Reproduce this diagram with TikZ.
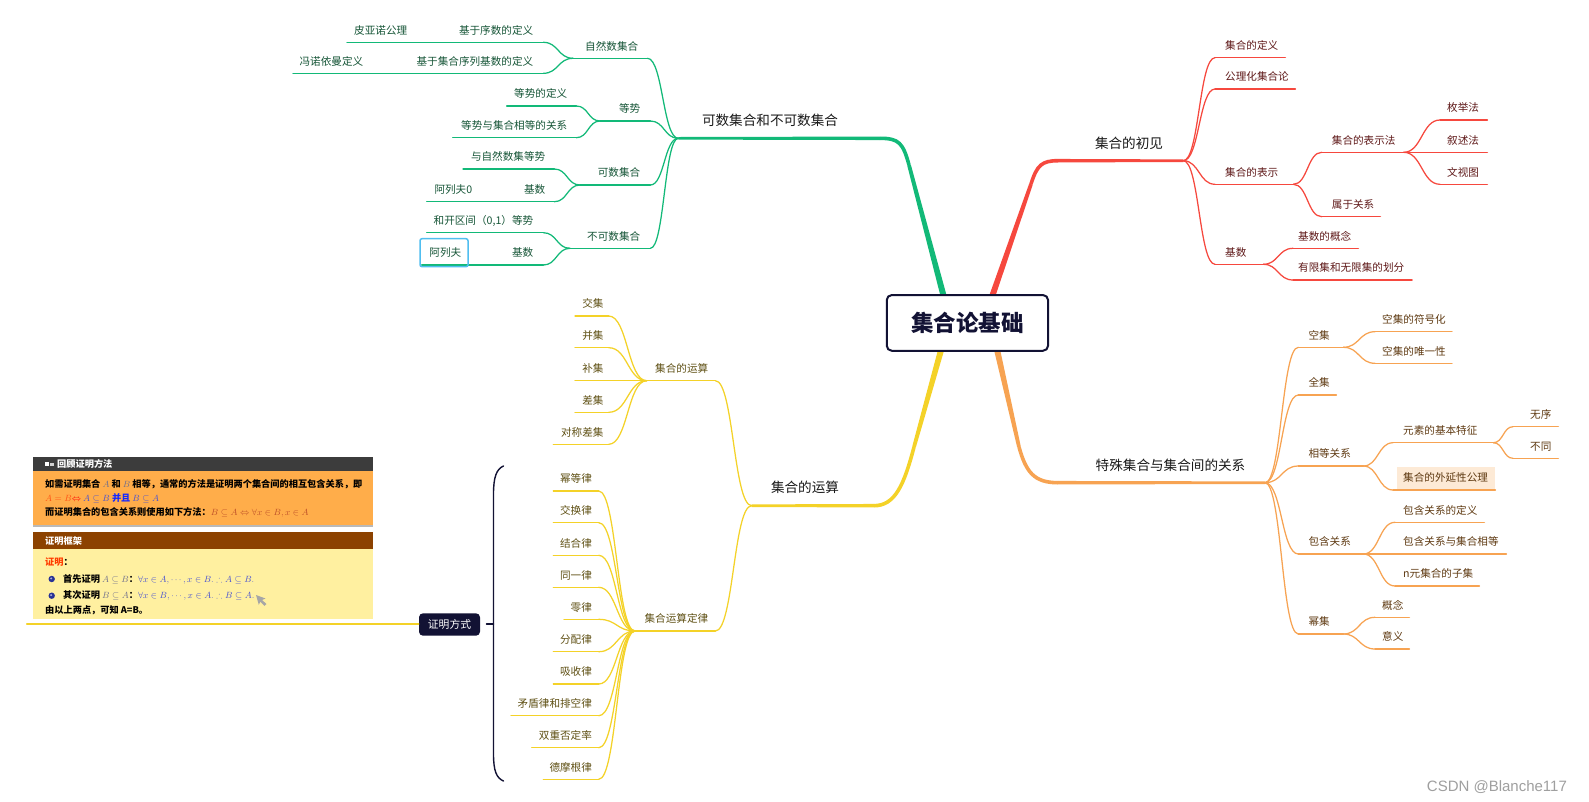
\documentclass[tikz,border=0pt]{standalone}
\usepackage{amssymb}
\usepackage{fontspec}
\setmainfont{Noto Sans CJK SC}
\newfontfamily\wmfont{Liberation Sans}
\usetikzlibrary{calc,backgrounds}
\definecolor{gC}{RGB}{18,185,120}
\definecolor{gT}{RGB}{22,85,55}
\definecolor{rC}{RGB}{246,72,62}
\definecolor{rT}{RGB}{95,25,25}
\definecolor{oC}{RGB}{247,163,82}
\definecolor{oT}{RGB}{95,58,18}
\definecolor{yC}{RGB}{244,210,40}
\definecolor{yT}{RGB}{95,80,20}
\definecolor{navy}{RGB}{18,18,52}
\definecolor{mainT}{RGB}{25,25,25}
\definecolor{selB}{RGB}{80,190,240}
\definecolor{extF}{RGB}{253,234,214}
\definecolor{imgDark}{RGB}{60,60,60}
\definecolor{imgOr}{RGB}{255,173,74}
\definecolor{imgBr}{RGB}{140,66,0}
\definecolor{imgY}{RGB}{255,240,160}
\definecolor{mgray}{RGB}{110,110,140}
\definecolor{eqR}{RGB}{255,80,20}
\definecolor{mblue}{RGB}{70,80,210}
\definecolor{bblue}{RGB}{20,40,255}
\definecolor{mbrown}{RGB}{190,80,40}
\definecolor{prR}{RGB}{255,60,0}
\definecolor{bulB}{RGB}{40,50,150}
\tikzset{
  base/.style={inner ysep=6pt, text height=8pt, text depth=2pt, font=\fontsize{10.6}{12}\selectfont},
  gtxt/.style={base, text=gT}, gln/.style={gC, line width=1.25pt},
  rtxt/.style={base, text=rT}, rln/.style={rC, line width=1.25pt},
  otxt/.style={base, text=oT}, oln/.style={oC, line width=1.25pt},
  ytxt/.style={base, text=yT}, yln/.style={yC, line width=1.25pt},
  mlbl/.style={inner sep=0pt, text=mainT, font=\fontsize{13.6}{15}\selectfont},
  imgtxt/.style={inner sep=0pt, anchor=west, font=\fontsize{9.2}{11}\selectfont},
  curv/.style={to path={let \p1=(\tikztostart), \p2=(\tikztotarget) in
     .. controls (0.5*\x1+0.5*\x2,\y1) and (0.5*\x1+0.5*\x2,\y2) .. (\tikztotarget)}},
  rootbox/.style={draw=navy, line width=2pt, rounded corners=5pt, fill=white,
     minimum width=161.3pt, minimum height=55.7pt, inner sep=0pt,
     font=\fontsize{22.5}{26}\selectfont\bfseries, text=navy},
  proofbox/.style={fill=navy, rounded corners=4pt, minimum width=61pt, minimum height=22.4pt,
     inner sep=0pt, text=white, font=\fontsize{10.8}{12}\selectfont}
}
% right-side item: pad, colour key, name, x1, x2, y(underline), text
\newcommand\nR[7][9]{\pgfmathsetmacro\tw{#5-#4-2*#1}%
  \node[#2txt, inner xsep=#1pt, anchor=south west] (#3) at (#4,#6) {\makebox[\tw pt][l]{#7}};%
  \draw[#2ln] (#3.south west) -- (#3.south east);}
% left-side item
\newcommand\nL[7][9]{\pgfmathsetmacro\tw{#5-#4-2*#1}%
  \node[#2txt, inner xsep=#1pt, anchor=south west] (#3) at (#4,#6) {\makebox[\tw pt][r]{#7}};%
  \draw[#2ln] (#3.south west) -- (#3.south east);}
\newcommand\cn[3]{\draw[#1ln] (#2) to[curv] (#3);}
% tapered straight piece: colour, from, to, half width at from, half width at to
\newcommand\taper[5]{\fill[#1] ($(#2)!#4pt!90:(#3)$) -- ($(#3)!#5pt!-90:(#2)$) -- ($(#3)!#5pt!90:(#2)$) -- ($(#2)!#4pt!-90:(#3)$) -- cycle;}
\begin{document}
\begin{tikzpicture}[x=1pt, y=-1pt, line cap=round, line join=round]
\useasboundingbox (0,0) rectangle (1589,801);
\begin{pgfonlayer}{background}
\fill[white] (0,0) rectangle (1589,801);
\end{pgfonlayer}

\node[rootbox] (root) at (967.4,322.9) {集合论基础};

\coordinate (gH) at (678.3,138.3);
\coordinate (rH) at (1183.3,160.7);
\coordinate (yH) at (751.7,505.7);
\coordinate (oH) at (1265,482.7);

\coordinate (gA) at ($(root)+(-21.7,-18.9)$);  \coordinate (gB) at (909,165);  \coordinate (gC1) at (880,138.3);
\coordinate (rA) at ($(root)+(22.1,-18.9)$);   \coordinate (rB) at (1031,184); \coordinate (rC1) at (1058,160.7);
\coordinate (yA) at ($(root)+(-24.1,19.1)$);   \coordinate (yB) at (914,447);  \coordinate (yC1) at (874,505.7);
\coordinate (oA) at ($(root)+(27.9,19.1)$);    \coordinate (oB) at (1019,447); \coordinate (oC1) at (1058,482.7);

\begin{pgfonlayer}{background}
% green main
\taper{gC}{gA}{gB}{3.1}{1.85}
\draw[gC, line width=3.6pt] (gB) .. controls (903,143) and (899,138.3) .. (gC1);
\taper{gC}{gC1}{gH}{1.75}{1.3}
% red main
\taper{rC}{rA}{rB}{3.1}{1.85}
\draw[rC, line width=3.6pt] (rB) .. controls (1037,165) and (1042,160.7) .. (rC1);
\taper{rC}{rC1}{rH}{1.75}{1.3}
% yellow main
\taper{yC}{yA}{yB}{3.1}{1.85}
\draw[yC, line width=3.6pt] (yB) .. controls (904,485) and (895,505.7) .. (yC1);
\taper{yC}{yC1}{yH}{1.75}{1.3}
% orange main
\taper{oC}{oA}{oB}{3.1}{1.85}
\draw[oC, line width=3.6pt] (oB) .. controls (1026,472) and (1034,482.7) .. (oC1);
\taper{oC}{oC1}{oH}{1.75}{1.3}
\end{pgfonlayer}

% main labels
\node[mlbl] (gM) at (770,120.7) {可数集合和不可数集合};
\node[mlbl] (rM) at (1129,143) {集合的初见};
\node[mlbl] (yM) at (805,487.5) {集合的运算};
\node[mlbl] (oM) at (1170.5,465) {特殊集合与集合间的关系};

% ---------------- green ----------------
\nL[9]{g}{g1}{573}{647}{58.3}{自然数集合}
\nL[10]{g}{g11}{445}{543}{42.3}{基于序数的定义}
\nL[10]{g}{g111}{347}{417}{42.3}{皮亚诺公理}
\nL[10]{g}{g12}{404}{543}{73.3}{基于集合序列基数的定义}
\nL[10]{g}{g121}{293}{373}{73.3}{冯诺依曼定义}
\nL[10]{g}{g2}{600}{650}{121}{等势}
\nL[9]{g}{g21}{506.7}{576}{106}{等势的定义}
\nL[9]{g}{g22}{452.7}{576}{137.7}{等势与集合相等的关系}
\nL[10]{g}{g3}{580}{650}{185}{可数集合}
\nL[9]{g}{g31}{463}{554}{169}{与自然数集等势}
\nL[9]{g}{g32}{480}{554}{201.7}{基数}
\nL[8]{g}{g321}{426.7}{480}{201.7}{阿列夫0}
\nL[10]{g}{g4}{570}{650}{248.3}{不可数集合}
\nL[10]{g}{g41}{426.7}{543}{232.7}{和开区间（0,1）等势}
\nL[10]{g}{g42}{470}{543}{265}{基数}
\nL[9]{g}{g421}{421.7}{470}{265}{阿列夫}
\draw[selB, line width=1.5pt, rounded corners=2pt] (420,238.7) rectangle (468,266.7);

\cn{g}{gH}{g1.south east}
\cn{g}{gH}{g2.south east}
\cn{g}{gH}{g3.south east}
\cn{g}{gH}{g4.south east}
\cn{g}{g1.south west}{g11.south east}
\cn{g}{g1.south west}{g12.south east}
\cn{g}{g11.south west}{g111.south east}
\cn{g}{g12.south west}{g121.south east}
\cn{g}{g2.south west}{g21.south east}
\cn{g}{g2.south west}{g22.south east}
\cn{g}{g3.south west}{g31.south east}
\cn{g}{g3.south west}{g32.south east}
\cn{g}{g32.south west}{g321.south east}
\cn{g}{g4.south west}{g41.south east}
\cn{g}{g4.south west}{g42.south east}
\cn{g}{g42.south west}{g421.south east}

% ---------------- red ----------------
\nR[10]{r}{r1}{1215}{1285}{57.7}{集合的定义}
\nR[10]{r}{r2}{1215}{1295}{89}{公理化集合论}
\nR[10]{r}{r3}{1215}{1293}{184.3}{集合的表示}
\nR[10]{r}{r31}{1321.7}{1403.3}{152.3}{集合的表示法}
\nR[7]{r}{r311}{1440}{1487}{120}{枚举法}
\nR[7]{r}{r312}{1440}{1487}{152.3}{叙述法}
\nR[7]{r}{r313}{1440}{1487}{184.3}{文视图}
\nR[10]{r}{r32}{1321.7}{1380}{216.7}{属于关系}
\nR[10]{r}{r4}{1215}{1263}{264.3}{基数}
\nR[5]{r}{r41}{1293}{1358}{248.3}{基数的概念}
\nR[5]{r}{r42}{1293}{1411.7}{280}{有限集和无限集的划分}

\cn{r}{rH}{r1.south west}
\cn{r}{rH}{r2.south west}
\cn{r}{rH}{r3.south west}
\cn{r}{rH}{r4.south west}
\cn{r}{r3.south east}{r31.south west}
\cn{r}{r3.south east}{r32.south west}
\cn{r}{r31.south east}{r311.south west}
\cn{r}{r31.south east}{r312.south west}
\cn{r}{r31.south east}{r313.south west}
\cn{r}{r4.south east}{r41.south west}
\cn{r}{r4.south east}{r42.south west}

% ---------------- orange ----------------
\nR[10]{o}{o1}{1298.3}{1343}{347.3}{空集}
\nR[7]{o}{o11}{1375}{1451.7}{331.7}{空集的符号化}
\nR[7]{o}{o12}{1375}{1451.7}{363.3}{空集的唯一性}
\nR[10]{o}{o2}{1298.3}{1336}{395}{全集}
\nR[10]{o}{o3}{1298.3}{1363}{466}{相等关系}
\nR[10]{o}{o31}{1393}{1493}{442.7}{元素的基本特征}
\nR[17]{o}{o311}{1513}{1558}{426.7}{无序}
\nR[17]{o}{o312}{1513}{1558}{458.3}{不同}
\fill[extF] (1396.7,466.7) rectangle (1495,490);
\nR[10]{o}{o32}{1393}{1495}{490}{集合的外延性公理}
\nR[10]{o}{o4}{1298.3}{1363}{554}{包含关系}
\nR[8]{o}{o41}{1395}{1484}{522.3}{包含关系的定义}
\nR[8]{o}{o42}{1395}{1506}{554}{包含关系与集合相等}
\nR[8]{o}{o43}{1395}{1479}{586}{n元集合的子集}
\nR[10]{o}{o5}{1298.3}{1343}{634}{幂集}
\nR[7]{o}{o51}{1375}{1409}{617.3}{概念}
\nR[7]{o}{o52}{1375}{1409}{649}{意义}

\cn{o}{oH}{o1.south west}
\cn{o}{oH}{o2.south west}
\cn{o}{oH}{o3.south west}
\cn{o}{oH}{o4.south west}
\cn{o}{oH}{o5.south west}
\cn{o}{o1.south east}{o11.south west}
\cn{o}{o1.south east}{o12.south west}
\cn{o}{o3.south east}{o31.south west}
\cn{o}{o3.south east}{o32.south west}
\cn{o}{o31.south east}{o311.south west}
\cn{o}{o31.south east}{o312.south west}
\cn{o}{o4.south east}{o41.south west}
\cn{o}{o4.south east}{o42.south west}
\cn{o}{o4.south east}{o43.south west}
\cn{o}{o5.south east}{o51.south west}
\cn{o}{o5.south east}{o52.south west}

% ---------------- yellow ----------------
\nL[7]{y}{y1}{646.7}{715}{380.7}{集合的运算}
\nL[5]{y}{y11}{575}{608.3}{316}{交集}
\nL[5]{y}{y12}{575}{608.3}{347.7}{并集}
\nL[5]{y}{y13}{575}{608.3}{380.7}{补集}
\nL[5]{y}{y14}{575}{608.3}{412.3}{差集}
\nL[5]{y}{y15}{553.3}{608.3}{444.3}{对称差集}
\nL[7]{y}{y2}{635}{715}{631}{集合运算定律}
\nL[6.6]{y}{y21}{553.3}{598.3}{491}{幂等律}
\nL[6.6]{y}{y22}{553.3}{598.3}{522.7}{交换律}
\nL[6.6]{y}{y23}{553.3}{598.3}{555.3}{结合律}
\nL[6.6]{y}{y24}{553.3}{598.3}{587.3}{同一律}
\nL[6.6]{y}{y25}{564}{598.3}{619.3}{零律}
\nL[6.6]{y}{y26}{553.3}{598.3}{651.7}{分配律}
\nL[6.6]{y}{y27}{553.3}{598.3}{684}{吸收律}
\nL[6.6]{y}{y28}{511}{598.3}{715.7}{矛盾律和排空律}
\nL[6.6]{y}{y29}{531.7}{598.3}{747.7}{双重否定率}
\nL[6.6]{y}{y2a}{543.3}{598.3}{779.3}{德摩根律}

\cn{y}{yH}{y1.south east}
\cn{y}{yH}{y2.south east}
\foreach \k in {1,...,5} {\cn{y}{y1.south west}{y1\k.south east}}
\foreach \k in {1,...,9,a} {\cn{y}{y2.south west}{y2\k.south east}}

% summary bracket and proof node
\draw[navy, line width=1.4pt] (503.5,466) .. controls (496.5,469) and (493.5,477) .. (493.5,494)
  -- (493.5,754) .. controls (493.5,771) and (496.5,778) .. (503.5,781);
\coordinate (brk) at (493.5,624);
\coordinate (brkL) at (486.5,624);
\draw[navy, line width=1.4pt] (brk) -- (brkL);
\node[proofbox] (proof) at (449.5,624.5) {证明方式};
\coordinate (imgL) at (26.7,624);
\draw[yln] (proof.west |- imgL) -- (imgL);

% embedded picture
\fill[imgDark] (32.7,456.7) rectangle (373.3,471);
\fill[imgOr] (32.7,471) rectangle (373.3,525);
\fill[gray!55] (32.7,524.5) rectangle (373.3,526.5);
\fill[imgBr] (32.7,532.3) rectangle (373.3,549);
\fill[imgY] (32.7,549) rectangle (373.3,619);
\fill[white] (45,461.5) rectangle (49,466);
\fill[white!65!gray] (50,462.5) rectangle (54,465.5);
\node[imgtxt, text=white] (t0) at (57,464) {\bfseries 回顾证明方法};
\node[imgtxt] (t1) at (45,484.3) {\bfseries 如需证明集合 \textcolor{mgray}{$A$} 和 \textcolor{mgray}{$B$} 相等，通常的方法是证明两个集合间的相互包含关系，即};
\node[imgtxt] (t2) at (45,498.3) {\textcolor{eqR}{$A=B$}\textcolor{red}{$\Leftrightarrow$} \textcolor{mblue}{$A\subseteq B$} \textcolor{bblue}{\bfseries 并且} \textcolor{mblue}{$B\subseteq A$}};
\node[imgtxt] (t3) at (45,512.7) {\bfseries 而证明集合的包含关系则使用如下方法：\textcolor{mbrown}{$B\subseteq A\Leftrightarrow\forall x\in B, x\in A$}};
\node[imgtxt, text=white] (t4) at (45,540.7) {\bfseries 证明框架};
\node[imgtxt] (t5) at (45,561.7) {\textcolor{prR}{\bfseries 证明}\bfseries ：};
\fill[bulB] (51.7,579) circle (3.2);
\fill[white!60!bulB] (51.2,578.4) circle (1.1);
\node[imgtxt] (t6) at (63,579) {\bfseries 首先证明 \textcolor{mgray}{$A\subseteq B$}：\textcolor{mblue}{$\forall x\in A,\cdots,x\in B.\therefore A\subseteq B.$}};
\fill[bulB] (51.7,595.7) circle (3.2);
\fill[white!60!bulB] (51.2,595.1) circle (1.1);
\node[imgtxt] (t7) at (63,595.7) {\bfseries 其次证明 \textcolor{mgray}{$B\subseteq A$}：\textcolor{mblue}{$\forall x\in B,\cdots,x\in A.\therefore B\subseteq A.$}};
\node[imgtxt] (t8) at (45,610.7) {\bfseries 由以上两点，可知 A=B。};
\fill[gray!70] (256,595) -- (265.5,598.5) -- (262,600) -- (266.5,604) -- (264.5,605.8) -- (260.3,601.6) -- (258.8,604.8) -- cycle;

% watermark
\node[inner sep=0pt, anchor=west, text=gray!75, font=\wmfont\fontsize{15}{17}\selectfont] (wm) at (1426.7,786.7) {CSDN @Blanche117};
\end{tikzpicture}
\end{document}
